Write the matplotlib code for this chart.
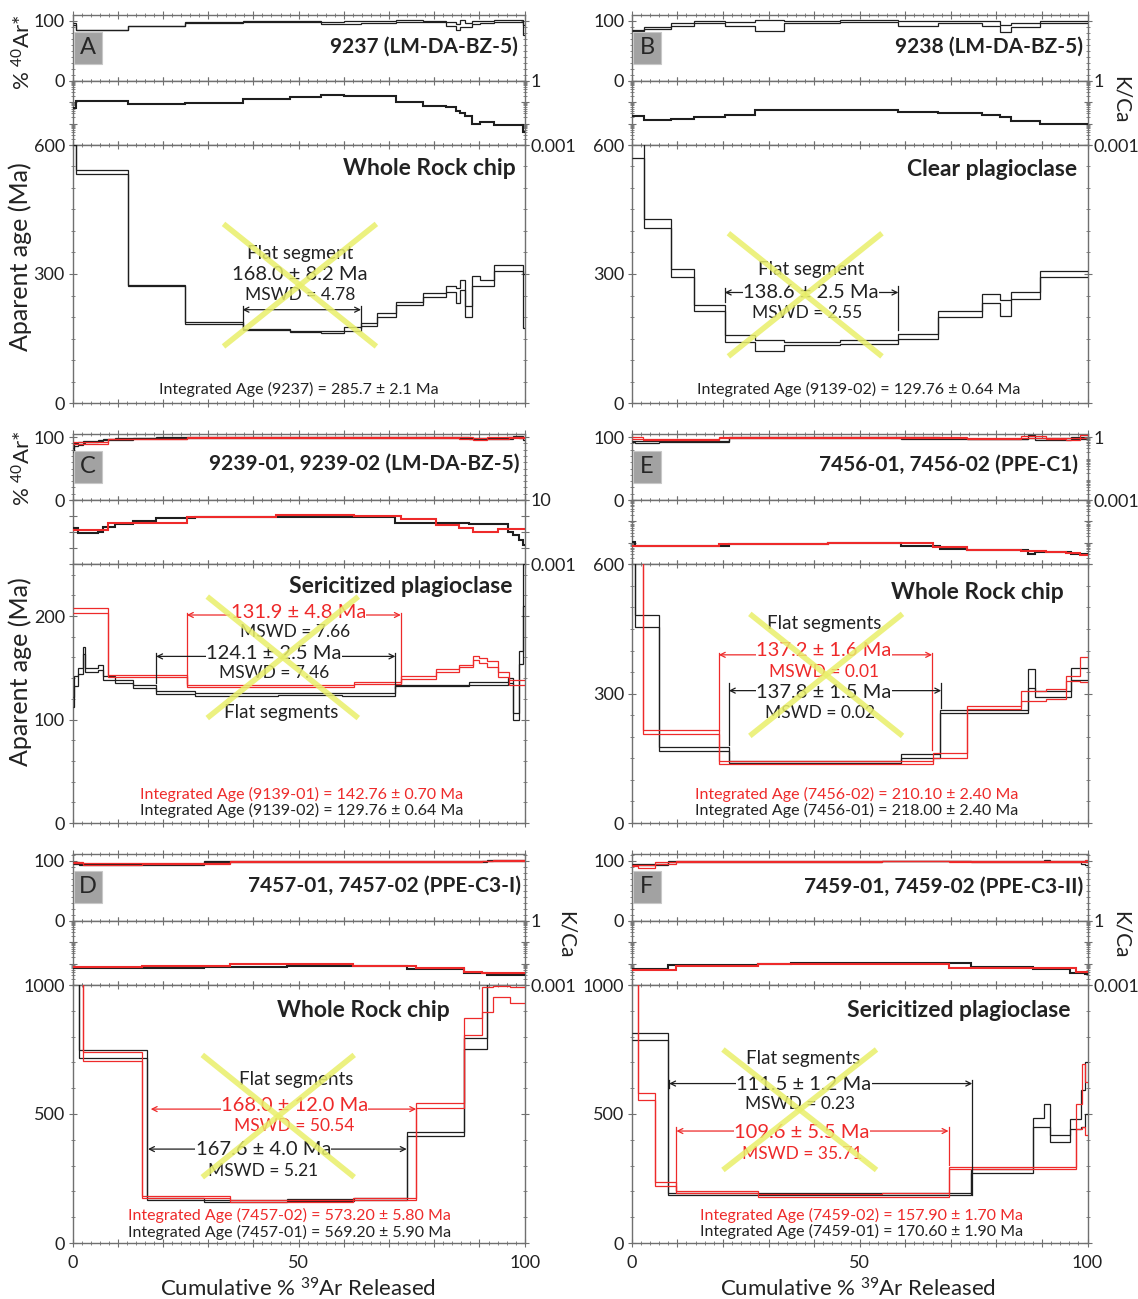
import numpy as np
import matplotlib
matplotlib.use('Agg')
import matplotlib.pyplot as plt
from matplotlib.patches import Rectangle
from matplotlib.ticker import MultipleLocator, FixedLocator, FuncFormatter, LogLocator, NullFormatter

# ---------------- data ----------------
# Panel A : 9237 (black)
A_edges = [0, 0.8, 12.2, 24.8, 37.6, 48, 55, 60, 63.8, 67.4, 71.6, 77.6, 82.5, 84.9, 85.7, 86.9, 88.3, 90.1, 93.3, 99.7, 100]
A_age = [680, 538, 273, 186, 171, 166.5, 165, 172, 182.5, 205, 232, 251, 264, 250, 275, 213, 284, 279, 313.5, 237]
A_err = [80, 5, 2, 2, 2, 2, 3, 4, 4.5, 4, 4, 5, 7, 17, 12, 12, 12, 7, 7.5, 63]
A_ar = [95, 84.5, 91, 96.5, 98.3, 99, 96, 96.5, 97.8, 98, 99.5, 99, 95, 90, 95, 93, 97, 98, 100, 85]
A_ar_err = [2, 0.6, 0.6, 0.6, 0.6, 1, 2, 2.5, 1, 1, 1, 1, 3, 5, 6, 3, 3, 2, 1.5, 8]
A_kca = [0.051, 0.117, 0.081, 0.093, 0.14, 0.18, 0.215, 0.2, 0.193, 0.193, 0.105, 0.066, 0.058, 0.039, 0.030, 0.022, 0.010, 0.012, 0.0085, 0.0042]

# Panel B : 9238 (black)
B_edges = [0, 2.6, 8.6, 13.6, 20.4, 27.1, 33.3, 45.7, 58.5, 67.1, 76.9, 80.9, 83.2, 89.6, 100]
B_age = [600, 418, 302, 221, 150, 134.5, 138.6, 142, 155, 207, 242.5, 221.5, 250, 300]
B_err = [31, 10, 10, 8, 7, 12.5, 3, 5, 6, 6, 10.5, 18.5, 8, 8]
B_ar = [84, 88, 93.7, 97.5, 95, 92, 98, 99.5, 95.5, 97.5, 95, 87, 93, 98]
B_ar_err = [1, 2, 2, 2, 3, 9, 2, 1.5, 4, 2, 4.5, 6.5, 3, 2]
B_kca = [0.022, 0.014, 0.016, 0.020, 0.024, 0.042, 0.042, 0.045, 0.035, 0.031, 0.024, 0.020, 0.013, 0.0093]

# Panel C : 9239-02 (black) and 9239-01 (red)
C2_edges = [0, 0.4, 1.2, 2.25, 2.8, 5.6, 6.8, 9.5, 13.3, 18.5, 27, 45.5, 59.7, 71.4, 87.7, 96.4, 97.5, 98.8, 99.6, 100]
C2_age = [117, 137, 147, 167, 148, 150.5, 140, 136.7, 131.8, 126.3, 124.2, 124.8, 124.2, 132.8, 134.6, 137.5, 103, 160, 230]
C2_err = [5, 5, 3, 3.5, 1.6, 2.5, 1.6, 1.7, 1.8, 1.5, 1.3, 1.2, 1.3, 0.8, 1.2, 2.5, 3, 6.5, 20]
C2_ar = [80, 88, 90, 92, 93, 95, 96, 97, 98.5, 99, 99.5, 99.5, 99.5, 99, 98, 99, 101, 100, 97]
C2_ar_err = [3, 2, 2, 2, 1, 1, 1, 1, 0.5, 0.5, 0.5, 0.5, 0.5, 0.7, 1, 1.5, 1.5, 1.5, 2]
C2_kca = [0.174, 0.174, 0.085, 0.085, 0.085, 0.107, 0.2, 0.32, 0.52, 0.72, 0.83, 0.83, 0.91, 0.39, 0.32, 0.107, 0.066, 0.032, 0.016]

C1_edges = [0, 7.9, 25.3, 45.1, 62.3, 72.6, 80.3, 85.4, 88.5, 89.9, 91.6, 94, 96.5, 100]
C1_age = [205, 141.8, 132.4, 132, 135, 140.5, 147.5, 151.7, 159.6, 156.8, 153.6, 143.7, 135.7]
C1_err = [2.5, 0.8, 1.1, 1, 0.9, 1.2, 1.2, 1.2, 2, 2.3, 2.5, 2.7, 2.5]
C1_ar = [91, 97, 99.5, 99.5, 99.5, 99.5, 99, 98.5, 97.5, 97.5, 98, 98.5, 99]
C1_ar_err = [1.5, 0.6, 0.5, 0.5, 0.5, 0.6, 0.8, 1, 1.5, 1.5, 1.5, 1.5, 1]
C1_kca = [0.135, 0.355, 0.83, 1.17, 1.01, 0.63, 0.28, 0.174, 0.107, 0.107, 0.107, 0.15, 0.15]

# Panel E : 7456-01 (black) and 7456-02 (red)
E1_edges = [0, 0.8, 6, 21.3, 43, 59, 67.7, 73.5, 87, 88.4, 96.4, 100]
E1_age = [680, 469, 172, 141, 141, 155.6, 258, 258, 335, 299.7, 345.6]
E1_err = [50, 13.5, 4, 2, 2, 5, 3, 3, 22, 7.5, 13.5]
E1_ar = [93, 92, 93.5, 99, 99.5, 98.5, 98, 97, 101, 97, 98]
E1_ar_err = [1.5, 1.5, 1, 0.5, 0.5, 1, 0.6, 0.6, 2, 1, 1.5]
E1_kca = [0.0115, 0.0071, 0.0071, 0.0089, 0.0095, 0.0074, 0.005, 0.0047, 0.003, 0.0037, 0.003]

E2_edges = [0, 2.5, 19.1, 43, 66.1, 73.5, 85.3, 90.8, 95.2, 98.4, 100]
E2_age = [680, 211.6, 140, 140, 156.4, 268, 294.6, 298.8, 334.8, 357]
E2_err = [50, 4.5, 2.7, 2.7, 5.7, 4, 12.5, 11.5, 6.5, 29]
E2_ar = [98.5, 97, 99.5, 99.7, 99, 97.5, 100, 97.5, 97, 101]
E2_ar_err = [1, 0.8, 0.5, 0.5, 0.6, 0.6, 1.5, 1, 1, 2]
E2_kca = [0.0071, 0.0071, 0.0089, 0.0095, 0.0066, 0.0047, 0.0042, 0.0037, 0.0035, 0.0028]

# Panel D : 7457-01 (black) and 7457-02 (red)
D1_edges = [0, 1.4, 16.5, 29, 47.5, 62.3, 74, 86.5, 91.7, 100]
D1_age = [1100, 732, 170, 163.5, 167, 170, 424, 772, 1100]
D1_err = [50, 16, 4.5, 4.5, 4.5, 4.5, 8, 21, 50]
D1_ar = [96, 94, 93, 98, 98.5, 98, 98.5, 99, 99.5]
D1_ar_err = [1, 1, 1, 0.6, 0.6, 0.6, 0.6, 0.6, 0.8]
D1_kca = [0.0065, 0.0065, 0.0065, 0.0071, 0.0076, 0.0076, 0.0054, 0.0037, 0.003]

D2_edges = [0, 2.4, 15.4, 34.8, 62, 76, 86.5, 90.5, 93.1, 96.8, 100]
D2_age = [1100, 723, 178.6, 162.5, 170, 533.5, 838.5, 945, 975, 962]
D2_err = [50, 16, 4.5, 5.5, 4.5, 11, 32.5, 48, 20, 31]
D2_ar = [96.5, 94.5, 95, 98.5, 98, 99, 99, 99.5, 100, 100]
D2_ar_err = [1, 1, 1, 0.6, 0.6, 0.6, 0.6, 0.6, 0.6, 0.6]
D2_kca = [0.0071, 0.0071, 0.0076, 0.0095, 0.0079, 0.006, 0.0042, 0.0037, 0.0037, 0.0037]

# Panel F : 7459-01 (black) and 7459-02 (red)
F1_edges = [0, 8, 27.6, 34.9, 54.9, 74.5, 88.1, 90.4, 91.7, 96.2, 98.6, 99.5, 100]
F1_age = [801, 190, 191, 190, 190, 279, 467, 495, 405, 461, 521, 600]
F1_err = [13.5, 3.2, 4.5, 3, 3, 6.5, 19, 45, 13, 21, 71, 100]
F1_ar = [93, 98, 98.5, 99, 99.5, 99, 98, 99, 98, 99, 97, 95]
F1_ar_err = [1, 0.6, 0.8, 0.5, 0.5, 0.5, 0.8, 1.5, 0.8, 1, 2, 3]
F1_kca = [0.0056, 0.0089, 0.0095, 0.0105, 0.0105, 0.0071, 0.0056, 0.0056, 0.0056, 0.0035, 0.0035, 0.0032]

F2_edges = [0, 1.4, 5.2, 9.8, 27.6, 54.9, 69.5, 97.4, 98.7, 99.5, 100]
F2_age = [1100, 567.5, 229.7, 197.6, 183.4, 186.6, 290.9, 490, 571, 521]
F2_err = [50, 14, 8.5, 4.5, 5.7, 6.5, 5, 50, 121, 103]
F2_ar = [92, 90, 96, 98, 99, 99.5, 99, 98, 99, 100]
F2_ar_err = [1.5, 2, 1, 0.6, 0.5, 0.5, 0.5, 1, 1, 1.5]
F2_kca = [0.005, 0.005, 0.005, 0.0076, 0.01, 0.0093, 0.0063, 0.0039, 0.0039, 0.0039]

# ---------------- style ----------------
plt.rcParams['font.family'] = ['Lato', 'DejaVu Sans']
plt.rcParams['mathtext.fontset'] = 'custom'
plt.rcParams['mathtext.rm'] = 'Lato'
plt.rcParams['mathtext.it'] = 'Lato:italic'
plt.rcParams['mathtext.bf'] = 'Lato:bold'

W, H = 1138, 1299
fig = plt.figure(figsize=(W / 100, H / 100), dpi=100)

COLS = {'L': (72.5, 524.7), 'R': (631.8, 1087.5)}
ROWS = [(15, 80.7, 145, 403), (434, 500, 564.3, 823), (854, 920.7, 985, 1243)]
TOPLIM = [109.5, 105, 111]

FRAME = '#707070'
TXT = '#222222'
BLACK = '#1e1e1e'
RED = '#ee2a2a'
YELLOW = '#e9ef6a'
TICKFS = 13


def add_px_axes(x0, x1, y0, y1):
    return fig.add_axes([x0 / W, 1 - y1 / H, (x1 - x0) / W, (y1 - y0) / H])


def base_style(ax, xlabels):
    ax.set_xlim(0, 100)
    for s in ax.spines.values():
        s.set_color(FRAME)
        s.set_linewidth(1.0)
    ax.xaxis.set_major_locator(MultipleLocator(10))
    ax.xaxis.set_minor_locator(MultipleLocator(2))
    ax.xaxis.set_major_formatter(FuncFormatter(
        lambda v, p: f'{v:.0f}' if (xlabels and int(round(v)) in (0, 50, 100)) else ''))
    ax.tick_params(axis='both', which='both', direction='inout', color=FRAME,
                   labelcolor=TXT, top=True, bottom=True, left=True, right=True,
                   labelsize=TICKFS)
    ax.tick_params(which='major', length=6, width=0.8)
    ax.tick_params(which='minor', length=3, width=0.6)
    ax.tick_params(axis='x', pad=6)
    ax.tick_params(axis='y', pad=2.5)


def make_panel(col, row, kca_lim, kca_labels, age_lim, age_ticks, age_minor, kca_on_top=False):
    x0, x1 = COLS[col]
    yt, ym, ya, yb = ROWS[row]
    top = add_px_axes(x0, x1, yt, ym)
    mid = add_px_axes(x0, x1, ym, ya)
    age = add_px_axes(x0, x1, ya, yb)
    for ax in (top, mid, age):
        base_style(ax, xlabels=(ax is age and row == 2))
    # %40Ar*
    top.set_ylim(0, TOPLIM[row])
    top.yaxis.set_major_locator(FixedLocator([0, 100]))
    top.yaxis.set_major_formatter(FuncFormatter(lambda v, p: f'{v:.0f}'))
    top.yaxis.set_minor_locator(MultipleLocator(10))
    top.tick_params(labelright=False)
    # K/Ca
    mid.set_yscale('log')
    mid.set_ylim(*kca_lim)
    decs = [10.0 ** k for k in range(int(np.log10(kca_lim[0])), int(np.log10(kca_lim[1])) + 1)]
    mid.yaxis.set_major_locator(FixedLocator(decs))
    mid.yaxis.set_minor_locator(LogLocator(base=10, subs=np.arange(2, 10)))
    mid.yaxis.set_minor_formatter(NullFormatter())
    lab = dict(zip(kca_lim, kca_labels))
    mid.yaxis.set_major_formatter(FuncFormatter(
        lambda v, p: next((t for k, t in lab.items() if abs(np.log10(v) - np.log10(k)) < 1e-6), '')))
    mid.tick_params(axis='y', labelleft=False, labelright=not kca_on_top, pad=1.5)
    if kca_on_top:
        mid.yaxis.set_major_formatter(NullFormatter())
        tw = top.twinx()
        tw.set_yscale('log')
        tw.set_ylim(1e-3, 10 ** (3 * TOPLIM[row] / 100 - 3))
        tw.yaxis.set_major_locator(FixedLocator([1e-3, 1]))
        tw.yaxis.set_major_formatter(FuncFormatter(lambda v, p: '1' if v > 0.5 else '0.001'))
        tw.yaxis.set_minor_locator(LogLocator(base=10, subs=np.arange(2, 10)))
        tw.yaxis.set_minor_formatter(NullFormatter())
        tw.tick_params(axis='y', which='both', direction='inout', color=FRAME, labelcolor=TXT,
                       labelsize=TICKFS, pad=1.5)
        tw.tick_params(which='major', length=6)
        tw.tick_params(which='minor', length=3)
        for s in tw.spines.values():
            s.set_visible(False)
    # age
    age.set_ylim(*age_lim)
    age.yaxis.set_major_locator(FixedLocator(age_ticks))
    age.yaxis.set_major_formatter(FuncFormatter(lambda v, p: f'{v:.0f}'))
    age.yaxis.set_minor_locator(MultipleLocator(age_minor))
    age.tick_params(labelright=False)
    return top, mid, age


def draw(axs, edges, age, err, ar, ar_err, kca, color):
    top, mid, ag = axs
    age = np.asarray(age, float)
    err = np.asarray(err, float)
    ar = np.asarray(ar, float)
    ar_err = np.asarray(ar_err, float)
    for v in (age + err, age - err):
        ag.stairs(v, edges, baseline=None, color=color, lw=0.9, zorder=3)
    for v in (ar + ar_err, ar - ar_err):
        top.stairs(v, edges, baseline=None, color=color, lw=0.9, zorder=3)
    mid.stairs(kca, edges, baseline=None, color=color, lw=1.5, zorder=3)


def letter_box(col, row, letter):
    x0 = 74 if col == 'L' else 633
    y0 = ROWS[row][0] + 16.5
    w, h = 28, 32.5
    fig.patches.append(Rectangle((x0 / W, 1 - (y0 + h) / H), w / W, h / H, transform=fig.transFigure,
                                 facecolor='#a2a2a2', edgecolor='#c8c8c8', lw=0.8, zorder=5))
    fig.text((x0 + w / 2) / W, 1 - (y0 + h / 2) / H, letter, ha='center', va='center',
             fontsize=17, color='#262626', zorder=6)


def bracket(ax, xa, xb, y, color, lv=None, rv=None):
    ax.annotate('', xy=(xa, y), xytext=(xb, y),
                arrowprops=dict(arrowstyle='<->', color=color, lw=0.9, shrinkA=0, shrinkB=0,
                                mutation_scale=9), zorder=4)
    if lv is not None:
        ax.plot([xa, xa], lv, color=color, lw=0.9, zorder=4)
    if rv is not None:
        ax.plot([xb, xb], rv, color=color, lw=0.9, zorder=4)


def label(ax, x, y, s, color=TXT, size=13, box=False):
    kw = {}
    if box:
        kw['bbox'] = dict(facecolor='white', edgecolor='none', pad=0.3)
    ax.text(x, y, s, ha='center', va='center', fontsize=size, color=color, zorder=5, **kw)


def cross(ax, xa, ya, xb, yb):
    ax.plot([xa, xb], [ya, yb], color=YELLOW, lw=4, alpha=0.85, zorder=10, solid_capstyle='butt')
    ax.plot([xa, xb], [yb, ya], color=YELLOW, lw=4, alpha=0.85, zorder=10, solid_capstyle='butt')


def titles(axs, title, sub, tx, ty, sx, sy):
    axs[0].text(tx, ty, title, ha='right', va='center', fontsize=15, fontweight='bold', color=TXT)
    axs[2].text(sx, sy, sub, ha='right', va='center', fontsize=16.5, fontweight='bold', color=TXT)


VAL = 14.5   # size of the plateau age texts
MS = 12.5    # size of the MSWD texts

# ---------------- Panel A ----------------
pA = make_panel('L', 0, (1e-3, 1), ('0.001', '1'), (0, 600), [0, 300, 600], 50)
draw(pA, A_edges, A_age, A_err, A_ar, A_ar_err, A_kca, BLACK)
letter_box('L', 0, 'A')
titles(pA, '9237 (LM-DA-BZ-5)', 'Whole Rock chip', 98.6, 56, 98, 546)
bracket(pA[2], 37.6, 63.8, 217, BLACK, lv=(226, 172), rv=(226, 175))
label(pA[2], 50.3, 348, 'Flat segment', size=13.5)
label(pA[2], 50.3, 298, '168.0 ± 8.2 Ma', size=VAL)
label(pA[2], 50.3, 252, 'MSWD = 4.78', size=MS)
cross(pA[2], 33.4, 416.5, 67.2, 131.6)
label(pA[2], 50, 31, 'Integrated Age (9237) = 285.7 ± 2.1 Ma', size=11.5)

# ---------------- Panel B ----------------
pB = make_panel('R', 0, (1e-3, 1), ('0.001', '1'), (0, 600), [0, 300, 600], 50)
draw(pB, B_edges, B_age, B_err, B_ar, B_ar_err, B_kca, BLACK)
letter_box('R', 0, 'B')
titles(pB, '9238 (LM-DA-BZ-5)', 'Clear plagioclase', 99, 56, 97.8, 543)
bracket(pB[2], 20.4, 58.5, 257, BLACK, lv=(236, 267), rv=(170, 271))
label(pB[2], 39.3, 311, 'Flat segment', size=13.5)
label(pB[2], 39.3, 257, '138.6 ± 2.5 Ma', size=VAL, box=True)
label(pB[2], 38.5, 210, 'MSWD = 2.55', size=MS)
cross(pB[2], 21.2, 394.8, 54.9, 108.4)
label(pB[2], 49.7, 31, 'Integrated Age (9139-02) = 129.76 ± 0.64 Ma', size=11.5)

# ---------------- Panel C ----------------
pC = make_panel('L', 1, (1e-3, 10), ('0.001', '10'), (0, 250), [0, 100, 200], 20)
draw(pC, C2_edges, C2_age, C2_err, C2_ar, C2_ar_err, C2_kca, BLACK)
draw(pC, C1_edges, C1_age, C1_err, C1_ar, C1_ar_err, C1_kca, RED)
letter_box('L', 1, 'C')
titles(pC, '9239-01, 9239-02 (LM-DA-BZ-5)', 'Sericitized plagioclase', 98.8, 58, 97.2, 229)
bracket(pC[2], 25.3, 72.6, 201, RED, lv=(203, 135), rv=(203, 135))
bracket(pC[2], 18.5, 71.4, 161, BLACK, lv=(164, 135), rv=(164, 130))
label(pC[2], 49.9, 203.4, '131.9 ± 4.8 Ma', color=RED, size=VAL, box=True)
label(pC[2], 49.2, 184.4, 'MSWD = 7.66', size=MS)
label(pC[2], 44.6, 164, '124.1 ± 2.5 Ma', size=VAL, box=True)
label(pC[2], 44.6, 145, 'MSWD = 7.46', size=MS)
label(pC[2], 46.2, 107, 'Flat segments', size=13.5)
cross(pC[2], 29.8, 218.8, 63.2, 101.4)
label(pC[2], 50.7, 27.4, 'Integrated Age (9139-01) = 142.76 ± 0.70 Ma', color=RED, size=11.5)
label(pC[2], 50.7, 12.2, 'Integrated Age (9139-02) = 129.76 ± 0.64 Ma', size=11.5)

# ---------------- Panel E ----------------
pE = make_panel('R', 1, (1e-3, 1), ('0.001', '1'), (0, 600), [0, 300, 600], 50, kca_on_top=True)
draw(pE, E1_edges, E1_age, E1_err, E1_ar, E1_ar_err, E1_kca, BLACK)
draw(pE, E2_edges, E2_age, E2_err, E2_ar, E2_ar_err, E2_kca, RED)
letter_box('R', 1, 'E')
titles(pE, '7456-01, 7456-02 (PPE-C1)', 'Whole Rock chip', 98, 56, 94.8, 534)
bracket(pE[2], 19.1, 65.9, 390, RED, lv=(394, 216), rv=(394, 170))
bracket(pE[2], 21.3, 67.9, 307, BLACK, lv=(324, 181), rv=(324, 266))
label(pE[2], 42.2, 463, 'Flat segments', size=13.5)
label(pE[2], 42.2, 399, '137.2 ± 1.6 Ma', color=RED, size=VAL, box=True)
label(pE[2], 42.2, 351, 'MSWD = 0.01', color=RED, size=MS)
label(pE[2], 42.2, 303, '137.8 ± 1.5 Ma', size=VAL, box=True)
label(pE[2], 41.4, 255, 'MSWD = 0.02', size=MS)
cross(pE[2], 25.9, 485, 59.4, 202)
label(pE[2], 49.4, 65.6, 'Integrated Age (7456-02) = 210.10 ± 2.40 Ma', color=RED, size=11.5)
label(pE[2], 49.4, 29.3, 'Integrated Age (7456-01) = 218.00 ± 2.40 Ma', size=11.5)

# ---------------- Panel D ----------------
pD = make_panel('L', 2, (1e-3, 1), ('0.001', '1'), (0, 1000), [0, 500, 1000], 100)
draw(pD, D1_edges, D1_age, D1_err, D1_ar, D1_ar_err, D1_kca, BLACK)
draw(pD, D2_edges, D2_age, D2_err, D2_ar, D2_ar_err, D2_kca, RED)
letter_box('L', 2, 'D')
titles(pD, '7457-01, 7457-02 (PPE-C3-I)', 'Whole Rock chip', 99.1, 58, 83.5, 903)
bracket(pD[2], 17.3, 76, 519, RED)
bracket(pD[2], 16.7, 73.9, 364, BLACK)
label(pD[2], 49.5, 635, 'Flat segments', size=13.5)
label(pD[2], 49.1, 532, '168.0 ± 12.0 Ma', color=RED, size=VAL, box=True)
label(pD[2], 49.1, 454, 'MSWD = 50.54', color=RED, size=MS)
label(pD[2], 42.2, 361, '167.6 ± 4.0 Ma', size=VAL, box=True)
label(pD[2], 42.2, 281, 'MSWD = 5.21', size=MS)
cross(pD[2], 28.7, 729, 62.3, 255)
label(pD[2], 47.9, 106, 'Integrated Age (7457-02) = 573.20 ± 5.80 Ma', color=RED, size=11.5)
label(pD[2], 47.9, 41, 'Integrated Age (7457-01) = 569.20 ± 5.90 Ma', size=11.5)

# ---------------- Panel F ----------------
pF = make_panel('R', 2, (1e-3, 1), ('0.001', '1'), (0, 1000), [0, 500, 1000], 100)
draw(pF, F1_edges, F1_age, F1_err, F1_ar, F1_ar_err, F1_kca, BLACK)
draw(pF, F2_edges, F2_age, F2_err, F2_ar, F2_ar_err, F2_kca, RED)
letter_box('R', 2, 'F')
titles(pF, '7459-01, 7459-02 (PPE-C3-II)', 'Sericitized plagioclase', 99, 56, 96.3, 901)
bracket(pF[2], 8.2, 74.7, 618, BLACK, lv=(630, 600), rv=(630, 186))
bracket(pF[2], 9.8, 69.5, 434, RED, lv=(450, 206), rv=(450, 302))
label(pF[2], 37.7, 714, 'Flat segments', size=13.5)
label(pF[2], 37.7, 614, '111.5 ± 1.2 Ma', size=VAL, box=True)
label(pF[2], 36.9, 538, 'MSWD = 0.23', size=MS)
label(pF[2], 37.3, 429, '109.6 ± 5.5 Ma', color=RED, size=VAL, box=True)
label(pF[2], 37.3, 345, 'MSWD = 35.71', color=RED, size=MS)
cross(pF[2], 20, 750, 53.7, 283)
label(pF[2], 50.5, 107, 'Integrated Age (7459-02) = 157.90 ± 1.70 Ma', color=RED, size=11.5)
label(pF[2], 50.5, 45, 'Integrated Age (7459-01) = 170.60 ± 1.90 Ma', size=11.5)

# ---------------- axis titles ----------------
def ftext(x, y, s, **kw):
    fig.text(x / W, 1 - y / H, s, ha='center', va='center', color=TXT, **kw)

for yc in (52, 468):
    ftext(23, yc, r'% $\mathregular{^{40}}$Ar*', rotation=90, fontsize=16)
for yc in (257, 672):
    ftext(20, yc, 'Aparent age (Ma)', rotation=90, fontsize=18)
for (xc, yc) in ((1121, 100), (566, 935), (1121, 935)):
    ftext(xc, yc, 'K/Ca', rotation=-90, fontsize=15)
for xc in (298, 858):
    ftext(xc, 1289, r'Cumulative % $\mathregular{^{39}}$Ar Released', fontsize=16)

fig.savefig('out.png', dpi=100, facecolor='white')
